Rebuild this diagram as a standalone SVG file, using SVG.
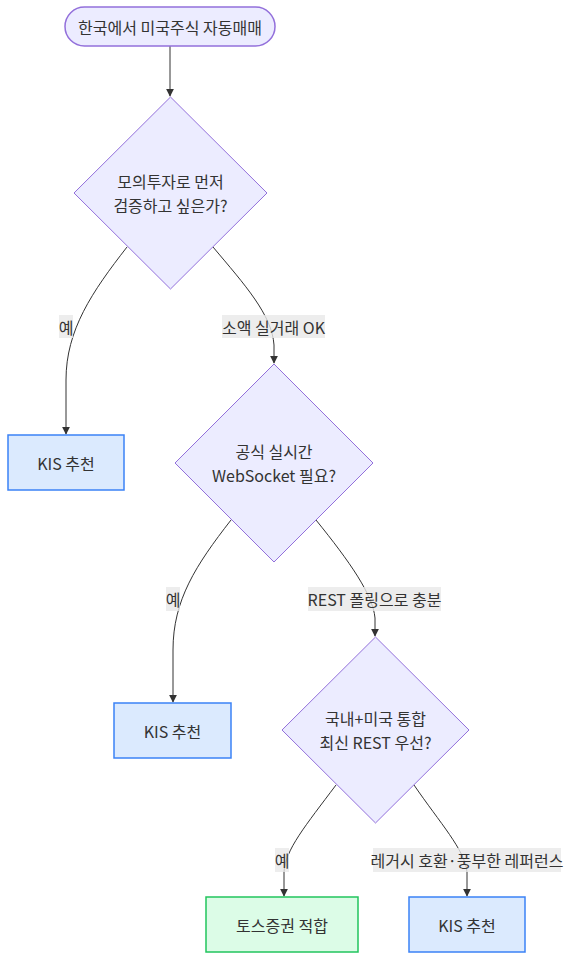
<svg xmlns="http://www.w3.org/2000/svg" width="570" height="960" viewBox="0 0 570 960">
<defs>
<marker id="arrow" viewBox="0 0 10 10" refX="9" refY="5" markerWidth="8" markerHeight="8" markerUnits="userSpaceOnUse" orient="auto">
<path d="M0,0 L10,5 L0,10 z" fill="#333"/>
</marker>
<style>
text{font-family:"Noto Sans CJK KR","Noto Sans",sans-serif;font-size:16px;fill:#333;text-anchor:middle;dominant-baseline:central}
.dec{fill:#ececff;stroke:#9370db;stroke-width:1}
.start{fill:#ececff;stroke:#9370db;stroke-width:1.5}
.kis{fill:#dbeafe;stroke:#3b82f6;stroke-width:1.5}
.toss{fill:#dcfce7;stroke:#22c55e;stroke-width:1.5}
.edge{fill:none;stroke:#333;stroke-width:1;marker-end:url(#arrow)}
.lbl{fill:#e8e8e8;fill-opacity:0.8}
</style>
</defs>
<rect width="570" height="960" fill="#fff"/>
<g id="edges">
<path class="edge" d="M170,46 L170,96"/>
<path class="edge" d="M127,247 C92,292 66,330 66,380 L66,434"/>
<path class="edge" d="M213,247 C245,285 272,315 274,345 L274,363"/>
<path class="edge" d="M231,520 C196,565 173,600 173,650 L173,702"/>
<path class="edge" d="M316,520 C350,562 373,595 375,618 L375,636"/>
<path class="edge" d="M336,785 C306,825 285,850 284,872 L284,896"/>
<path class="edge" d="M414,785 C440,823 465,850 467,872 L467,896"/>
</g>
<g id="edge-labels">
<rect class="lbl" x="59" y="315" width="14" height="23"/><text x="66" y="326.5">예</text>
<rect class="lbl" x="222" y="315" width="103" height="23"/><text x="273.5" y="326.5">소액 실거래 OK</text>
<rect class="lbl" x="166" y="587" width="14" height="24"/><text x="173" y="599">예</text>
<rect class="lbl" x="308" y="587" width="133" height="24"/><text x="374.5" y="599">REST 폴링으로 충분</text>
<rect class="lbl" x="275" y="848" width="14" height="24"/><text x="282" y="860">예</text>
<rect class="lbl" x="373" y="848" width="188" height="24"/><text x="467" y="860">레거시 호환·풍부한 레퍼런스</text>
</g>
<g id="start">
<rect class="start" x="65" y="7" width="210" height="39" rx="19.5" ry="19.5"/>
<text x="170" y="26.5">한국에서 미국주식 자동매매</text>
</g>
<g id="q1">
<polygon class="dec" points="170.5,97 267,193 170.5,289 74,193"/>
<text x="170.5" y="181">모의투자로 먼저</text>
<text x="170.5" y="205">검증하고 싶은가?</text>
</g>
<g id="kis1">
<rect class="kis" x="8" y="435" width="116" height="55"/>
<text x="66" y="462.5">KIS 추천</text>
</g>
<g id="q2">
<polygon class="dec" points="274,364 373,463 274,562 175,463"/>
<text x="274" y="451">공식 실시간</text>
<text x="274" y="475">WebSocket 필요?</text>
</g>
<g id="kis2">
<rect class="kis" x="114" y="703" width="117" height="55"/>
<text x="172.5" y="730.5">KIS 추천</text>
</g>
<g id="q3">
<polygon class="dec" points="375.5,637 469,730 375.5,823 282,730"/>
<text x="375.5" y="718">국내+미국 통합</text>
<text x="375.5" y="742">최신 REST 우선?</text>
</g>
<g id="toss">
<rect class="toss" x="206" y="897" width="152" height="55"/>
<text x="282" y="924.5">토스증권 적합</text>
</g>
<g id="kis3">
<rect class="kis" x="409" y="897" width="116" height="55"/>
<text x="467" y="924.5">KIS 추천</text>
</g>
</svg>
